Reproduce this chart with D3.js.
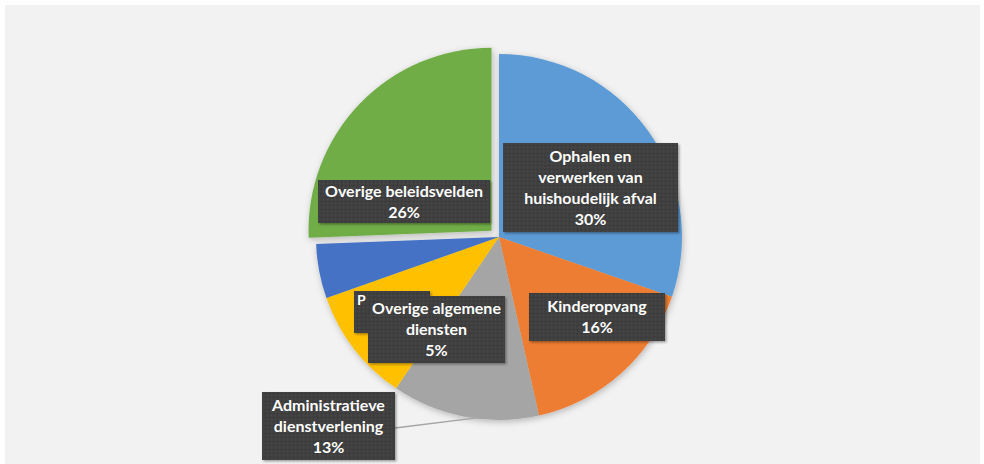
<!DOCTYPE html>
<html>
<head>
<meta charset="utf-8">
<script src="https://cdn.jsdelivr.net/npm/d3@7"></script>
<style>
  body { margin: 0; background: #fff; }
  svg { display: block; }
</style>
</head>
<body>
<svg width="984" height="464"></svg>
<script>
const categories = [
  "Ophalen en verwerken van huishoudelijk afval",
  "Kinderopvang",
  "Administratieve dienstverlening",
  "P",
  "Overige algemene diensten",
  "Overige beleidsvelden"
];
const values = [30.3, 16.2, 13.0, 10.1, 4.8, 25.6];
const colors = ["#5b9bd5", "#ed7d31", "#a5a5a5", "#ffc000", "#4472c4", "#70ad47"];
const labelLines = [
  ["Ophalen en", "verwerken van", "huishoudelijk afval", "30%"],
  ["Kinderopvang", "16%"],
  ["Administratieve", "dienstverlening", "13%"],
  ["P"],
  ["Overige algemene", "diensten", "5%"],
  ["Overige beleidsvelden", "26%"]
];
// label box placement (x, y = top-left; w, h)
const labelBoxes = [
  { x: 503, y: 143, w: 175, h: 89 },
  { x: 529, y: 293, w: 136, h: 48 },
  { x: 262, y: 392, w: 133, h: 68 },
  { x: 354, y: 291, w: 76, h: 42, left: true },
  { x: 368, y: 296, w: 137, h: 67 },
  { x: 318, y: 180, w: 172, h: 43 }
];

const svg = d3.select("svg"),
  width = +svg.attr("width"),
  height = +svg.attr("height");

const defs = svg.append("defs");
const pat = defs.append("pattern")
  .attr("id", "dots")
  .attr("width", 4).attr("height", 4)
  .attr("patternUnits", "userSpaceOnUse");
pat.append("rect").attr("width", 4).attr("height", 4).attr("fill", "#404040");
pat.append("rect").attr("x", 1).attr("y", 1).attr("width", 1).attr("height", 1).attr("fill", "#333");
pat.append("rect").attr("x", 3).attr("y", 3).attr("width", 1).attr("height", 1).attr("fill", "#4a4a4a");

const shadow = defs.append("filter").attr("id", "shadow")
  .attr("x", "-20%").attr("y", "-20%").attr("width", "140%").attr("height", "140%");
shadow.append("feDropShadow")
  .attr("dx", 1).attr("dy", 2).attr("stdDeviation", 3)
  .attr("flood-color", "#000").attr("flood-opacity", 0.25);

const boxShadow = defs.append("filter").attr("id", "boxShadow")
  .attr("x", "-10%").attr("y", "-10%").attr("width", "130%").attr("height", "130%");
boxShadow.append("feDropShadow")
  .attr("dx", 1.5).attr("dy", 1.5).attr("stdDeviation", 1.2)
  .attr("flood-color", "#000").attr("flood-opacity", 0.35);

svg.append("rect")
  .attr("x", 5).attr("y", 5)
  .attr("width", width - 9).attr("height", height - 5)
  .attr("fill", "#f2f2f2");

const cx = 499, cy = 237, radius = 183;
const pie = d3.pie().sort(null).value(d => d);
const arcs = pie(values);
const arc = d3.arc().innerRadius(0).outerRadius(radius);

const g = svg.append("g")
  .attr("transform", `translate(${cx},${cy})`)
  .attr("filter", "url(#shadow)");

g.selectAll("path")
  .data(arcs)
  .join("path")
  .attr("d", arc)
  .attr("fill", (d, i) => colors[i])
  .attr("transform", (d, i) => {
    if (i !== 5) return null;
    const a = (d.startAngle + d.endAngle) / 2;
    const off = 9;
    return `translate(${Math.sin(a) * off - 1},${-Math.cos(a) * off})`;
  });

// leader line for Administratieve dienstverlening
const adm = arcs[2];
const admAngle = (adm.startAngle + adm.endAngle) / 2 - 0.12;
svg.append("line")
  .attr("x1", labelBoxes[2].x + labelBoxes[2].w)
  .attr("y1", labelBoxes[2].y + 36)
  .attr("x2", cx + Math.sin(admAngle) * (radius - 3))
  .attr("y2", cy - Math.cos(admAngle) * (radius - 3))
  .attr("stroke", "#a5a5a5")
  .attr("stroke-width", 1.3);

const lineH = 21;
const labels = svg.append("g");
const order = [0, 1, 3, 4, 5, 2];
order.forEach(i => {
  const b = labelBoxes[i];
  const lg = labels.append("g");
  lg.append("rect")
    .attr("x", b.x).attr("y", b.y)
    .attr("width", b.w).attr("height", b.h)
    .attr("fill", "url(#dots)")
    .attr("filter", "url(#boxShadow)");
  const lines = labelLines[i];
  const total = lines.length * lineH;
  const y0 = b.y + (b.h - total) / 2 + lineH / 2;
  lg.selectAll("text")
    .data(lines)
    .join("text")
    .attr("x", b.left ? b.x + 3 : b.x + b.w / 2)
    .attr("y", (d, k) => b.left ? b.y + 9 : y0 + k * lineH)
    .attr("dy", "0.35em")
    .attr("text-anchor", b.left ? "start" : "middle")
    .attr("fill", "#fff")
    .attr("font-family", "Lato, 'Open Sans', sans-serif")
    .attr("font-weight", "bold")
    .attr("font-size", b.left ? 14 : 16)
    .text(d => d);
});
</script>
</body>
</html>
